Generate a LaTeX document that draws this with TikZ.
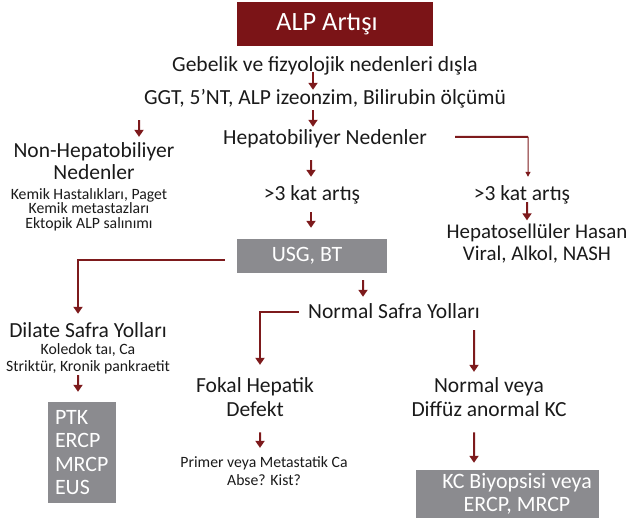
\documentclass[tikz,border=0pt]{standalone}
\usepackage{fontspec}
\setmainfont{Carlito}
\usetikzlibrary{arrows.meta}
\definecolor{alpred}{HTML}{7B1417}
\definecolor{arrred}{HTML}{7D1A1C}
\definecolor{boxgray}{HTML}{8B8B8F}
\definecolor{ink}{HTML}{1A1A1A}
\begin{document}
\begin{tikzpicture}[x=1bp,y=-1bp,
  single/.style={inner sep=0pt, anchor=base, text=ink, font=\fontsize{21.6}{22}\selectfont, text height=15bp, text depth=5bp},
  multi/.style={inner sep=0pt, anchor=base, text=ink, align=center, font=\fontsize{21.6}{#1}\selectfont},
  small/.style={inner sep=0pt, anchor=base, text=ink, align=center, font=\fontsize{15.8}{#1}\selectfont},
  graybox/.style={fill=boxgray, text=white, inner sep=0pt, font=\fontsize{22}{23.5}\selectfont},
  arr/.style={draw=arrred, line width=2bp, -{Triangle[width=9bp,length=7bp]}},
  plainline/.style={draw=arrred, line width=2bp},
  thinarr/.style={draw=arrred, line width=1bp, -{Triangle[width=5bp,length=5bp]}}
]
\useasboundingbox (0,0) rectangle (631,519);

% title box
\node[fill=alpred, text=white, inner sep=0pt, minimum width=196bp, minimum height=44bp,
      font=\fontsize{26.5}{28}\selectfont] (alp) at (335,24) {ALP Artışı\hspace*{16bp}};

\node[single] (geb) at (325,72) {Gebelik ve fizyolojik nedenleri dışla};
\node[single] (ggt) at (325,105) {GGT, 5’NT, ALP izeonzim, Bilirubin ölçümü};
\node[single] (hep) at (325,145) {Hepatobiliyer Nedenler};

\node[multi=22bp] (non) at (94,180) {Non-Hepatobiliyer\\Nedenler};
\node[small=14.7bp] (nons) at (89,228.5) {Kemik Hastalıkları, Paget\\Kemik metastazları\\Ektopik ALP salınımı};

\node[single] (k3a) at (312,201) {>3 kat artış};
\node[single] (k3b) at (522,201) {>3 kat artış};
\node[multi=22bp, font=\fontsize{21}{22}\selectfont] (hsh) at (537,260) {Hepatosellüler Hasan\\Viral, Alkol, NASH};

\node[graybox, minimum width=150bp, minimum height=34bp] (usg) at (312,256) {USG, BT\hspace*{10bp}};

\node[single, text depth=3bp] (dil) at (88,337) {Dilate Safra Yolları};
\node[small=17.5bp] (dils) at (88,371.5) {Koledok taı, Ca\\Striktür, Kronik pankraetit};
\node[graybox, minimum width=68bp, minimum height=101bp, align=left, text width=54bp] (ptk) at (82,452.5) {PTK\\ERCP\\MRCP\\EUS};

\node[single] (nsy) at (394,318) {Normal Safra Yolları};
\node[multi=24bp] (fok) at (255,416) {Fokal Hepatik\\Defekt};
\node[small=18bp] (prim) at (264,485) {Primer veya Metastatik Ca\\Abse? Kist?};
\node[multi=24bp] (nor) at (489,416) {Normal veya\\Diffüz anormal KC};
\node[graybox, minimum width=183bp, minimum height=48bp, align=center, font=\fontsize{22}{23}\selectfont] (kc) at (507.5,494)
  {\hspace*{19bp}KC Biyopsisi veya\\\hspace*{19bp}ERCP, MRCP};

% connectors
\draw[arr, shorten <=-5bp, shorten >=0bp] ([xshift=-12bp]geb.south) -- ([xshift=-12bp]ggt.north);
\draw[arr, shorten <=0bp, shorten >=3bp] ([xshift=-12bp]ggt.south) -- ([xshift=-12bp]hep.north);
\draw[arr, shorten <=10bp, shorten >=6bp] ([xshift=-186bp]ggt.south) -- ([xshift=45bp]non.north);
\draw[arr, shorten <=10bp, shorten >=9bp] ([xshift=-14bp]hep.south) -- ([xshift=-1bp]k3a.north);
\draw[arr, shorten <=6bp, shorten >=11bp] ([xshift=-1bp]k3a.south) -- ([xshift=-1bp]usg.north);

\coordinate (hk) at (528,137);
\draw[plainline, shorten <=28bp] ([yshift=3bp]hep.east) -- (hk);
\draw[thinarr, shorten >=9bp] (hk) -- ([xshift=6bp]k3b.north);
\draw[arr, shorten <=-4bp, shorten >=3bp] ([xshift=5bp]k3b.south) -- ([xshift=-10bp]hsh.north);

\draw[arr, shorten <=12bp, shorten >=8bp] ([yshift=-4bp]usg.west) -| ([xshift=-10bp]dil.north);
\draw[arr, shorten <=1bp, shorten >=10bp] ([xshift=-10bp]dils.south) -- ([xshift=-4bp]ptk.north);

\draw[arr, shorten <=7bp, shorten >=6bp] ([xshift=51bp]usg.south) -- ([xshift=-31bp]nsy.north);
\draw[arr, shorten <=9bp, shorten >=12bp] ([yshift=1bp]nsy.west) -| ([xshift=5bp]fok.north);
\draw[arr, shorten <=16bp, shorten >=8bp] ([xshift=5bp]fok.south) -- ([xshift=-4bp]prim.north);
\draw[arr, shorten <=7bp, shorten >=5bp] ([xshift=80bp]nsy.south) -- ([xshift=-15bp]nor.north);
\draw[arr, shorten <=16bp, shorten >=7bp] ([xshift=-15bp]nor.south) -- ([xshift=-33.5bp]kc.north);
\end{tikzpicture}
\end{document}
